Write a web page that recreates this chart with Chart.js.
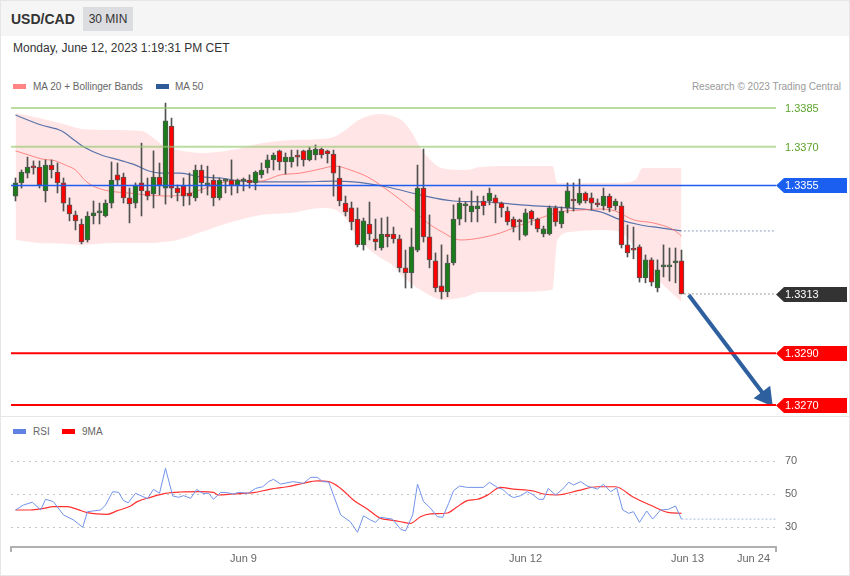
<!DOCTYPE html>
<html>
<head>
<meta charset="utf-8">
<script src="https://cdn.jsdelivr.net/npm/chart.js@4.4.0/dist/chart.umd.min.js"></script>
<style>
  body { margin: 0; background: #fff; font-family: "Liberation Sans", Arial, sans-serif; }
  #page { position: relative; width: 850px; height: 576px; overflow: hidden; background: #fff; }
  #head { position: absolute; left: 0; top: 0; width: 850px; height: 36px; background: #f5f5f5; }
  #pair { position: absolute; left: 11px; top: 11px; font-size: 14px; font-weight: bold; color: #333; }
  #tf { position: absolute; left: 83px; top: 7px; width: 50px; height: 24px; line-height: 24px; background: #dcdde0; font-size: 12px; color: #333; text-align: center; }
  #date { position: absolute; left: 13px; top: 41px; font-size: 12px; color: #333; }
  .lg { position: absolute; font-size: 10px; line-height: 12px; color: #666; white-space: nowrap; }
  .sw { position: absolute; width: 13px; height: 5px; }
  #sep { position: absolute; left: 0; top: 416px; width: 850px; height: 1px; background: #e6e6e6; }
  canvas { position: absolute; left: 0; }
  #main { top: 96px; }
  #rsi { top: 440px; }
  #frame { position: absolute; left: 0; top: 0; width: 850px; height: 576px; box-sizing: border-box; border: 1px solid #e6e6e6; pointer-events: none; }
</style>
</head>
<body>
<div id="page">
  <div id="head"><div id="pair">USD/CAD</div><div id="tf">30 MIN</div></div>
  <div id="date">Monday, June 12, 2023 1:19:31 PM CET</div>

  <div class="sw" style="left:13px;top:84px;background:#ff8585"></div>
  <div class="lg" style="left:33px;top:81px">MA 20 + Bollinger Bands</div>
  <div class="sw" style="left:156px;top:84px;background:#2f5a9a"></div>
  <div class="lg" style="left:175px;top:81px">MA 50</div>
  <div class="lg" style="right:9px;top:81px;color:#999">Research © 2023 Trading Central</div>

  <canvas id="main" width="850" height="319"></canvas>
  <div id="sep"></div>

  <div class="sw" style="left:13px;top:429px;background:#5f82e3"></div>
  <div class="lg" style="left:33px;top:426px">RSI</div>
  <div class="sw" style="left:62px;top:429px;background:#ff0000"></div>
  <div class="lg" style="left:82px;top:426px">9MA</div>

  <canvas id="rsi" width="850" height="136"></canvas>
  <div id="frame"></div>
</div>

<script>
// 30 min candles, index 0 .. 111
const opens = [
  1.33509, 1.33560, 1.33598, 1.33621, 1.33621, 1.33529, 1.33629, 1.33602, 1.33560, 1.33475,
  1.33436, 1.33401, 1.33339, 1.33432, 1.33444, 1.33432, 1.33482, 1.33591, 1.33583, 1.33502,
  1.33482, 1.33560, 1.33529, 1.33517, 1.33583, 1.33540, 1.33780, 1.33540, 1.33548, 1.33521,
  1.33502, 1.33610, 1.33552, 1.33571, 1.33502, 1.33567, 1.33571, 1.33552, 1.33567, 1.33571,
  1.33560, 1.33591, 1.33618, 1.33649, 1.33684, 1.33641, 1.33641, 1.33668, 1.33684, 1.33649,
  1.33668, 1.33691, 1.33684, 1.33672, 1.33579, 1.33482, 1.33463, 1.33420, 1.33320, 1.33401,
  1.33343, 1.33308, 1.33362, 1.33362, 1.33343, 1.33231, 1.33211, 1.33300, 1.33540, 1.33351,
  1.33258, 1.33161, 1.33138, 1.33250, 1.33420, 1.33471, 1.33448, 1.33459, 1.33490, 1.33490,
  1.33502, 1.33482, 1.33451, 1.33420, 1.33413, 1.33358, 1.33451, 1.33420, 1.33362, 1.33362,
  1.33463, 1.33401, 1.33463, 1.33494, 1.33482, 1.33521, 1.33502, 1.33482, 1.33471, 1.33509,
  1.33471, 1.33471, 1.33320, 1.33304, 1.33312, 1.33192, 1.33262, 1.33153, 1.33235, 1.33235,
  1.33250, 1.33258
];
const highs = [
  1.33579, 1.33610, 1.33660, 1.33645, 1.33645, 1.33649, 1.33649, 1.33637, 1.33579, 1.33502,
  1.33451, 1.33420, 1.33448, 1.33490, 1.33482, 1.33494, 1.33641, 1.33637, 1.33598, 1.33540,
  1.33560, 1.33714, 1.33579, 1.33684, 1.33637, 1.33869, 1.33811, 1.33552, 1.33579, 1.33598,
  1.33629, 1.33629, 1.33625, 1.33591, 1.33579, 1.33575, 1.33649, 1.33575, 1.33579, 1.33591,
  1.33606, 1.33637, 1.33668, 1.33676, 1.33687, 1.33676, 1.33687, 1.33687, 1.33687, 1.33699,
  1.33707, 1.33695, 1.33687, 1.33687, 1.33625, 1.33509, 1.33486, 1.33463, 1.33424, 1.33486,
  1.33420, 1.33424, 1.33428, 1.33389, 1.33358, 1.33300, 1.33385, 1.33629, 1.33691, 1.33436,
  1.33289, 1.33320, 1.33281, 1.33475, 1.33502, 1.33486, 1.33529, 1.33509, 1.33509, 1.33540,
  1.33513, 1.33486, 1.33467, 1.33428, 1.33420, 1.33459, 1.33455, 1.33424, 1.33393, 1.33471,
  1.33471, 1.33467, 1.33560, 1.33560, 1.33575, 1.33525, 1.33521, 1.33498, 1.33540, 1.33517,
  1.33498, 1.33486, 1.33397, 1.33389, 1.33320, 1.33281, 1.33270, 1.33262, 1.33320, 1.33308,
  1.33308, 1.33300
];
const lows = [
  1.33490, 1.33540, 1.33579, 1.33594, 1.33540, 1.33486, 1.33579, 1.33521, 1.33451, 1.33413,
  1.33378, 1.33324, 1.33331, 1.33401, 1.33401, 1.33428, 1.33463, 1.33552, 1.33482, 1.33405,
  1.33463, 1.33432, 1.33494, 1.33463, 1.33513, 1.33478, 1.33502, 1.33490, 1.33471, 1.33475,
  1.33490, 1.33521, 1.33513, 1.33471, 1.33494, 1.33521, 1.33513, 1.33521, 1.33529, 1.33540,
  1.33533, 1.33579, 1.33598, 1.33610, 1.33610, 1.33594, 1.33621, 1.33625, 1.33625, 1.33645,
  1.33649, 1.33656, 1.33637, 1.33509, 1.33471, 1.33432, 1.33378, 1.33312, 1.33300, 1.33339,
  1.33300, 1.33300, 1.33312, 1.33327, 1.33215, 1.33153, 1.33153, 1.33293, 1.33331, 1.33231,
  1.33138, 1.33111, 1.33119, 1.33242, 1.33397, 1.33409, 1.33409, 1.33409, 1.33436, 1.33475,
  1.33405, 1.33428, 1.33397, 1.33370, 1.33339, 1.33354, 1.33397, 1.33370, 1.33351, 1.33358,
  1.33393, 1.33386, 1.33444, 1.33451, 1.33475, 1.33482, 1.33455, 1.33467, 1.33455, 1.33448,
  1.33455, 1.33308, 1.33273, 1.33266, 1.33176, 1.33173, 1.33161, 1.33138, 1.33196, 1.33180,
  1.33173, 1.33130
];
const closes = [
  1.33560, 1.33602, 1.33621, 1.33618, 1.33552, 1.33629, 1.33610, 1.33560, 1.33482, 1.33440,
  1.33413, 1.33331, 1.33432, 1.33444, 1.33448, 1.33482, 1.33571, 1.33571, 1.33502, 1.33479,
  1.33552, 1.33529, 1.33509, 1.33583, 1.33552, 1.33800, 1.33540, 1.33521, 1.33509, 1.33509,
  1.33610, 1.33560, 1.33560, 1.33502, 1.33571, 1.33571, 1.33552, 1.33571, 1.33571, 1.33560,
  1.33602, 1.33610, 1.33649, 1.33668, 1.33641, 1.33660, 1.33660, 1.33660, 1.33649, 1.33687,
  1.33691, 1.33668, 1.33672, 1.33598, 1.33490, 1.33448, 1.33409, 1.33320, 1.33413, 1.33362,
  1.33331, 1.33362, 1.33351, 1.33343, 1.33231, 1.33211, 1.33312, 1.33540, 1.33351, 1.33262,
  1.33153, 1.33138, 1.33250, 1.33420, 1.33482, 1.33475, 1.33471, 1.33471, 1.33471, 1.33521,
  1.33482, 1.33463, 1.33409, 1.33389, 1.33409, 1.33444, 1.33420, 1.33382, 1.33382, 1.33463,
  1.33409, 1.33451, 1.33529, 1.33490, 1.33521, 1.33490, 1.33482, 1.33475, 1.33509, 1.33463,
  1.33490, 1.33320, 1.33289, 1.33300, 1.33192, 1.33262, 1.33176, 1.33223, 1.33242, 1.33242,
  1.33258, 1.33130
];

// Bollinger bands (20)
const bbIdx   = [0, 4, 8, 11, 16, 21, 23, 24.5, 27, 31, 36, 41, 46, 51, 53, 55, 56.7, 58.7, 60.8, 62.8, 64.5, 66, 67.5, 69.5, 71, 75, 77.5, 84, 89.5, 90.3, 92.5, 97.5, 100.8, 103.3, 104.5, 107.5, 111];
const bbUpper = [1.33831, 1.33811, 1.33788, 1.33769, 1.33765, 1.33761, 1.33734, 1.33707, 1.33687, 1.33676, 1.33687, 1.33714, 1.33726, 1.33730, 1.33738, 1.33765, 1.33796, 1.33819, 1.33827, 1.33819, 1.33800, 1.33757, 1.33695, 1.33641, 1.33618, 1.33610, 1.33622, 1.33625, 1.33625, 1.33560, 1.33560, 1.33560, 1.33560, 1.33571, 1.33618, 1.33618, 1.33618];
const bbLower = [1.33339, 1.33327, 1.33324, 1.33320, 1.33327, 1.33327, 1.33327, 1.33331, 1.33339, 1.33370, 1.33409, 1.33436, 1.33444, 1.33463, 1.33459, 1.33424, 1.33358, 1.33308, 1.33270, 1.33242, 1.33200, 1.33169, 1.33146, 1.33119, 1.33107, 1.33119, 1.33138, 1.33138, 1.33146, 1.33339, 1.33370, 1.33378, 1.33370, 1.33308, 1.33262, 1.33176, 1.33099];

const ma20Idx  = [0, 2.2, 4.3, 6.7, 8.3, 10, 11.7, 13.3, 15.5, 18.8, 22.2, 25.5, 27.5, 30.8, 34.2, 37.5, 40.8, 44.2, 47.5, 50.8, 53.3, 55.8, 58.7, 60.8, 64.2, 66.3, 68.7, 70.8, 74.2, 77.5, 80.8, 84.2, 87.5, 90.8, 94.2, 97.5, 100, 103, 106.3, 109.7, 111];
const ma20Vals = [1.33684, 1.33668, 1.33653, 1.33645, 1.33629, 1.33610, 1.33567, 1.33544, 1.33529, 1.33521, 1.33513, 1.33509, 1.33513, 1.33533, 1.33560, 1.33571, 1.33567, 1.33591, 1.33598, 1.33614, 1.33625, 1.33610, 1.33583, 1.33552, 1.33494, 1.33455, 1.33405, 1.33374, 1.33339, 1.33347, 1.33366, 1.33397, 1.33424, 1.33448, 1.33455, 1.33459, 1.33451, 1.33417, 1.33405, 1.33378, 1.33354];

const ma50Idx  = [0, 4.3, 7.7, 10, 11.7, 14.3, 17.2, 20, 22.2, 24.3, 27.5, 30.8, 34.2, 37.5, 42, 47.5, 53, 56.3, 62, 67.5, 73, 78.7, 84.2, 92, 97.5, 100.8, 104.2, 107.5, 111];
const ma50Vals = [1.33823, 1.33784, 1.33761, 1.33722, 1.33695, 1.33668, 1.33649, 1.33629, 1.33606, 1.33598, 1.33598, 1.33583, 1.33579, 1.33567, 1.33564, 1.33564, 1.33567, 1.33564, 1.33544, 1.33513, 1.33490, 1.33486, 1.33475, 1.33463, 1.33448, 1.33417, 1.33397, 1.33386, 1.33374];

// support / resistance levels
const resistLevels = [1.3385, 1.3370];
const pivotLevel = 1.3355;
const supportLevels = [1.3290, 1.3270];

// projected move
const arrowIdx  = [112.2, 125];
const arrowVals = [1.33126, 1.32732];

// RSI panel
const rsiIdx  = [0, 1.3, 2.8, 4.2, 5, 6.3, 8, 9.7, 11.2, 12, 14.2, 15, 16.2, 17.2, 18, 18.8, 20, 22, 23, 24, 25, 26.2, 27.2, 28, 29.2, 30.2, 31.2, 32.2, 33, 34.2, 35.3, 36.3, 37.2, 38.8, 40, 41.2, 42.2, 43, 44.2, 46.2, 48, 49.2, 50.3, 51.2, 52.2, 54.2, 55.8, 57, 58, 59.2, 60, 60.8, 62.8, 64.2, 65, 66.2, 67, 68, 69.2, 70.3, 71.2, 72.2, 73, 74, 75.3, 78, 79, 80.3, 81.2, 82.2, 83, 84.2, 85.3, 86.3, 87.2, 88, 88.8, 90, 91.2, 92.2, 93, 94.2, 95.3, 97, 98, 99.2, 100.2, 101.2, 102.2, 103, 104, 105.2, 106.2, 107.5, 108.8, 110, 111];
const rsiVals = [40.3, 43.3, 45, 40.3, 46.8, 45.4, 37.3, 34.2, 29.8, 39.3, 40.3, 43.3, 51.4, 51, 46, 44.7, 50.4, 47.2, 52.8, 50.4, 65.6, 48.8, 48, 49, 47.4, 52.8, 50.4, 50.4, 46.8, 51, 50.8, 50, 51, 50.4, 53.4, 54.4, 57.5, 58.9, 56, 57.5, 56.5, 60.1, 60.1, 57.5, 57.3, 37.3, 33.2, 26.8, 36.8, 34.2, 32.8, 35.9, 34.8, 28.6, 27.6, 37.3, 56, 45.4, 41.3, 36.2, 35.9, 44.4, 52, 54.8, 54, 54, 57.1, 54, 52.8, 49.4, 47.8, 49, 51.4, 49.4, 46.8, 46.8, 53.4, 49.4, 53, 57.1, 55.5, 57.5, 54.8, 53, 55.9, 51.4, 53.8, 40.3, 38.3, 39.3, 32.8, 39.7, 34.8, 40.3, 40.7, 42.7, 34.8];
const rsiMaIdx  = [0, 2.5, 4.7, 6.3, 8.7, 10.3, 12, 15.3, 17, 19.2, 20.3, 22.5, 25, 27.5, 30.8, 33, 33.8, 36.3, 39.7, 42.5, 45.3, 48, 50.3, 52.2, 54.2, 56.3, 58.7, 60.8, 62.5, 64.2, 65.8, 67.5, 69.2, 72, 73.5, 75.3, 77, 78.7, 80.8, 83, 86.3, 88, 90.3, 93.7, 97, 100, 103, 105.8, 108.7, 111];
const rsiMaVals = [40.3, 40.3, 41.3, 42.3, 42.3, 40.7, 38.7, 37.7, 39.9, 42.7, 45.4, 48, 50.4, 51.2, 51.4, 51, 49.4, 50, 50.8, 53, 54.4, 56.5, 57.9, 57.5, 53.4, 46.4, 40.7, 35.3, 34.2, 33.2, 32.2, 36.2, 37.9, 38.5, 42, 46, 46.8, 49.4, 54, 53, 51.8, 50, 49.4, 52, 54.4, 54.4, 48, 43.3, 38.9, 38.3];
const rsiTicks = [30, 50, 70];

const xTickPos = [38, 85, 112, 123];
const xTickLabels = ['Jun 9', 'Jun 12', 'Jun 13', 'Jun 24'];

// ---- drawing ----
const xMin = -0.75, xMax = 126.75;
const last = closes.length - 1;
const UP = '#1a7d1a', DOWN = '#ff0000';
const FONT = '"Liberation Sans", Arial, sans-serif';

const pts = (xs, ys) => xs.map((x, k) => ({ x: x, y: ys[k] }));
const flat = (v, from) => [{ x: from, y: v }, { x: xMax, y: v }];

function hline(v, color, width, from, dash) {
  return {
    type: 'line', data: flat(v, from === undefined ? xMin : from),
    borderColor: color, borderWidth: width, borderDash: dash || [],
    pointRadius: 0, order: 0
  };
}

// price tags on the right side
const tagPlugin = {
  id: 'tags',
  afterDraw(chart) {
    const ctx = chart.ctx, y = chart.scales.y, x0 = chart.chartArea.right;
    const tags = [
      [resistLevels[0], null, '#5da32b'],
      [resistLevels[1], null, '#5da32b'],
      [pivotLevel, '#1b5ff0', '#fff'],
      [closes[last], '#333333', '#fff'],
      [supportLevels[0], '#ff0000', '#fff'],
      [supportLevels[1], '#ff0000', '#fff']
    ];
    ctx.save();
    ctx.font = '11px ' + FONT;
    ctx.textBaseline = 'middle';
    tags.forEach(([v, bg, fg]) => {
      const py = Math.round(y.getPixelForValue(v)) + 0.5;
      if (bg) {
        ctx.fillStyle = bg;
        ctx.beginPath();
        ctx.moveTo(x0, py);
        ctx.lineTo(x0 + 8, py - 7.5);
        ctx.lineTo(x0 + 71, py - 7.5);
        ctx.lineTo(x0 + 71, py + 7.5);
        ctx.lineTo(x0 + 8, py + 7.5);
        ctx.closePath();
        ctx.fill();
      }
      ctx.fillStyle = fg;
      ctx.fillText(v.toFixed(4), x0 + 9, py + 0.5);
    });
    ctx.restore();
  }
};

new Chart(document.getElementById('main'), {
  type: 'bar',
  data: {
    datasets: [
      hline(resistLevels[0], 'rgba(150,200,110,0.65)', 2),
      hline(resistLevels[1], 'rgba(150,200,110,0.65)', 2),
      hline(pivotLevel, '#1f5cf0', 1.5),
      hline(supportLevels[0], '#ff0000', 2),
      hline(supportLevels[1], '#ff0000', 2),
      hline(closes[last], '#999', 1, last + 0.4, [2, 2]),
      hline(ma50Vals[ma50Vals.length - 1], '#8c9bbd', 1, last + 0.4, [2, 2]),
      {
        type: 'line', data: pts(arrowIdx, arrowVals), order: 0,
        borderColor: '#2e5f9e', borderWidth: 4,
        pointRadius: [0, 8], pointStyle: 'triangle', pointRotation: 143,
        pointBackgroundColor: '#2e5f9e', pointBorderColor: '#2e5f9e'
      },
      {
        data: opens.map((o, i) => ({ x: i, y: [o, closes[i]] })),
        backgroundColor: c => closes[c.dataIndex] >= opens[c.dataIndex] ? UP : DOWN,
        borderColor: '#555', borderWidth: 1, borderSkipped: false,
        barThickness: 5, minBarLength: 2, grouped: false, order: 2
      },
      {
        data: highs.map((h, i) => ({ x: i, y: [lows[i], h] })),
        backgroundColor: '#505050', borderWidth: 0,
        barThickness: 1, grouped: false, order: 3
      },
      {
        type: 'line', data: pts(ma20Idx, ma20Vals), order: 4,
        borderColor: 'rgba(255,100,100,0.75)', borderWidth: 1,
        pointRadius: 0, cubicInterpolationMode: 'monotone'
      },
      {
        type: 'line', data: pts(ma50Idx, ma50Vals), order: 4,
        borderColor: 'rgba(60,95,160,0.85)', borderWidth: 1.2,
        pointRadius: 0, cubicInterpolationMode: 'monotone'
      },
      {
        type: 'line', data: pts(bbIdx, bbUpper), order: 5,
        borderWidth: 0, pointRadius: 0, cubicInterpolationMode: 'monotone',
        fill: '+1', backgroundColor: 'rgba(255,190,190,0.4)'
      },
      {
        type: 'line', data: pts(bbIdx, bbLower), order: 5,
        borderWidth: 0, pointRadius: 0, cubicInterpolationMode: 'monotone', fill: false
      }
    ]
  },
  options: {
    responsive: false,
    animation: false,
    layout: { autoPadding: false, padding: { left: 11, right: 74, top: 0, bottom: 0 } },
    plugins: { legend: { display: false }, tooltip: { enabled: false } },
    scales: {
      x: { type: 'linear', min: xMin, max: xMax, offset: false, display: false },
      y: { min: 1.326613, max: 1.338965, display: false }
    }
  },
  plugins: [tagPlugin]
});

// end marks of the time axis
const axisEnds = {
  id: 'axisEnds',
  afterDraw(chart) {
    const ctx = chart.ctx, a = chart.chartArea;
    ctx.save();
    ctx.strokeStyle = '#b0b0b0';
    ctx.lineWidth = 2;
    ctx.beginPath();
    ctx.moveTo(a.left, a.bottom); ctx.lineTo(a.left, a.bottom + 5);
    ctx.moveTo(a.right, a.bottom); ctx.lineTo(a.right, a.bottom + 5);
    ctx.stroke();
    ctx.restore();
  }
};

new Chart(document.getElementById('rsi'), {
  type: 'line',
  data: {
    datasets: [
      {
        data: pts(rsiIdx, rsiVals), borderColor: '#7393ea', borderWidth: 1,
        pointRadius: 0, tension: 0
      },
      {
        data: pts(rsiMaIdx, rsiMaVals), borderColor: '#ff3030', borderWidth: 1.2,
        pointRadius: 0, cubicInterpolationMode: 'monotone'
      },
      {
        data: flat(rsiVals[rsiVals.length - 1], rsiIdx[rsiIdx.length - 1]),
        borderColor: '#a9b8e0', borderWidth: 1, borderDash: [2, 2], pointRadius: 0
      }
    ]
  },
  options: {
    responsive: false,
    animation: false,
    layout: { autoPadding: false, padding: { left: 11, right: 0, top: 0, bottom: 0 } },
    plugins: { legend: { display: false }, tooltip: { enabled: false } },
    scales: {
      x: {
        type: 'linear', min: xMin, max: xMax,
        afterBuildTicks: s => { s.ticks = xTickPos.map(v => ({ value: v })); },
        afterFit: s => { s.height = 29; s.paddingLeft = 0; s.paddingRight = 0; s.paddingTop = 0; s.paddingBottom = 0; },
        grid: { display: false, drawTicks: false },
        border: { display: true, color: '#b0b0b0', width: 2 },
        ticks: {
          padding: 5, color: '#666', font: { size: 11, family: FONT },
          autoSkip: false, maxRotation: 0,
          callback: (v, i) => xTickLabels[i]
        }
      },
      y: {
        position: 'right', min: 17.88, max: 82.73,
        afterBuildTicks: s => { s.ticks = rsiTicks.map(v => ({ value: v })); },
        afterFit: s => { s.width = 74; s.paddingLeft = 0; s.paddingRight = 0; s.paddingTop = 0; s.paddingBottom = 0; },
        grid: { color: '#c4c4c4', drawTicks: false },
        border: { display: false, dash: [2, 4] },
        ticks: { padding: 9, color: '#666', font: { size: 11, family: FONT } }
      }
    }
  },
  plugins: [axisEnds]
});
</script>
</body>
</html>
